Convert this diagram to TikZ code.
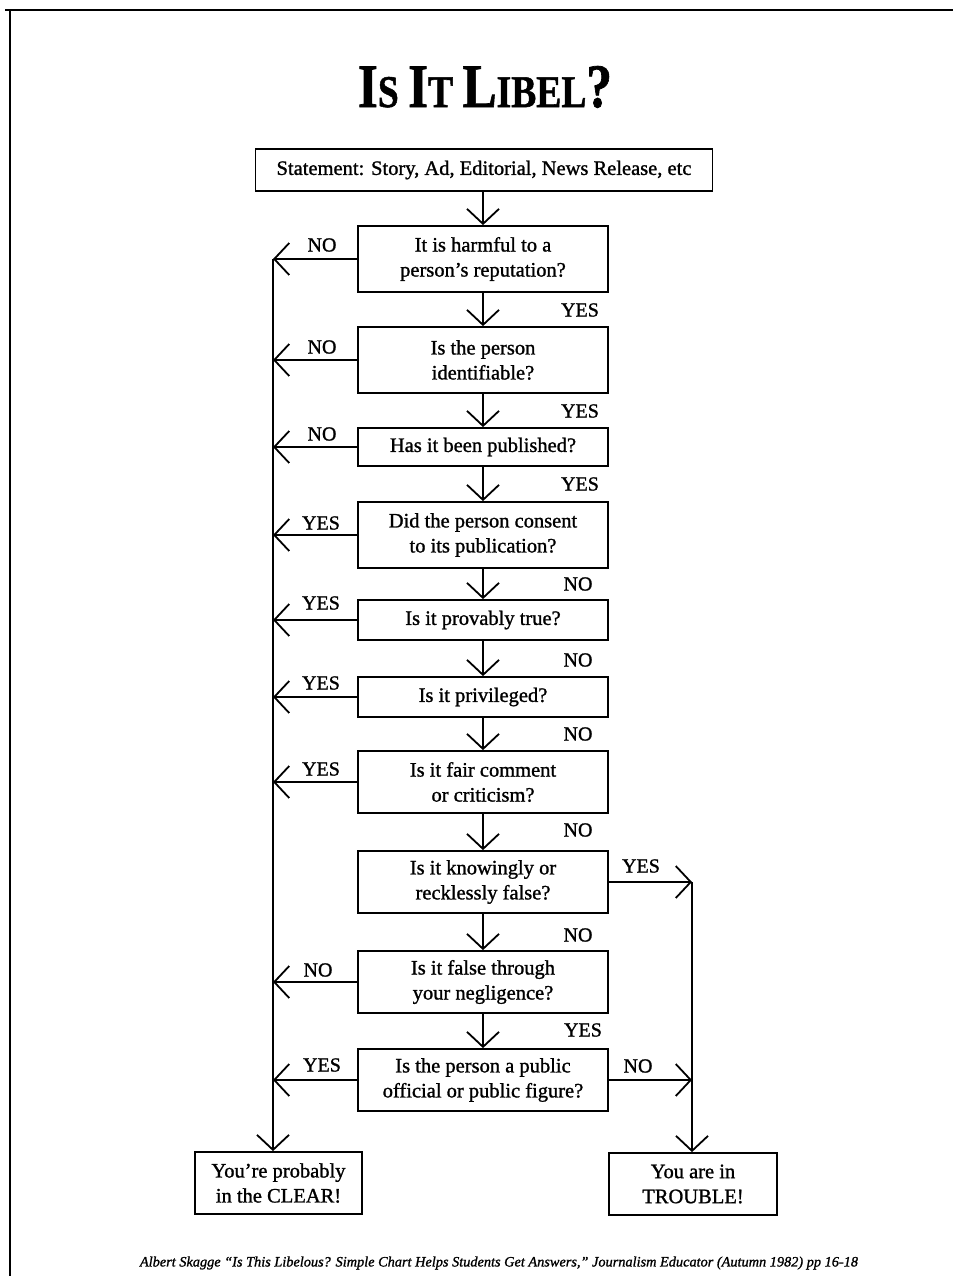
\documentclass[tikz,border=0pt]{standalone}
\usepackage{fontspec}
\setmainfont{Liberation Serif}[RawFeature={embolden=1.2}]
\usetikzlibrary{arrows.meta}
\newcommand{\ttlbig}{\fontsize{64}{64}\selectfont}
\newcommand{\ttlsmall}{\fontsize{47}{47}\selectfont}
\begin{document}
\begin{tikzpicture}[x=1pt,y=-1pt,
  box/.style={draw, line width=1.8pt, align=center, inner sep=0pt, font=\fontsize{20.5}{25}\selectfont},
  lbl/.style={inner sep=0pt, font=\fontsize{20}{22}\selectfont},
  arr/.style={line width=1.8pt, -{Straight Barb[length=15pt,width=32pt,line width=1.8pt]}},
  frame/.style={line width=2.5pt}]
\useasboundingbox (0,0) rectangle (953,1276);
\draw[frame] (5,10) -- (953,10);
\draw[frame] (10,10) -- (10,1276);

\node[inner sep=0pt] (title) at (485,87) {\resizebox{254pt}{41pt}{\bfseries\ttlbig I\ttlsmall S \ttlbig I\ttlsmall T \ttlbig L\ttlsmall IBEL\ttlbig ?}};

\node[box, minimum width=457pt, minimum height=42pt] (stmt) at (484,170) {Statement: Story, Ad, Editorial, News Release, etc};
\node[box, minimum width=250pt, minimum height=66pt] (b1) at (483,259) {It is harmful to a\\person's reputation?};
\node[box, minimum width=250pt, minimum height=66pt] (b2) at (483,360) {Is the person\\identifiable?};
\node[box, minimum width=250pt, minimum height=38pt] (b3) at (483,447) {Has it been published?};
\node[box, minimum width=250pt, minimum height=66pt] (b4) at (483,535) {Did the person consent\\to its publication?};
\node[box, minimum width=250pt, minimum height=40pt] (b5) at (483,620) {Is it provably true?};
\node[box, minimum width=250pt, minimum height=40pt] (b6) at (483,697) {Is it privileged?};
\node[box, minimum width=250pt, minimum height=62pt] (b7) at (483,782) {Is it fair comment\\or criticism?};
\node[box, minimum width=250pt, minimum height=62pt] (b8) at (483,882) {Is it knowingly or\\recklessly false?};
\node[box, minimum width=250pt, minimum height=62pt] (b9) at (483,982) {Is it false through\\your negligence?};
\node[box, minimum width=250pt, minimum height=62pt] (b10) at (483,1080) {Is the person a public\\official or public figure?};
\node[box, minimum width=167pt, minimum height=62pt] (clear) at (278.5,1183) {You're probably\\in the CLEAR!};
\node[box, minimum width=168pt, minimum height=62pt] (trouble) at (693,1184) {You are in\\TROUBLE!};

% main column
\draw[arr] (stmt.south -| b1.north) -- (b1.north);
\draw[arr] (b1) -- (b2);
\draw[arr] (b2) -- (b3);
\draw[arr] (b3) -- (b4);
\draw[arr] (b4) -- (b5);
\draw[arr] (b5) -- (b6);
\draw[arr] (b6) -- (b7);
\draw[arr] (b7) -- (b8);
\draw[arr] (b8) -- (b9);
\draw[arr] (b9) -- (b10);

% left column
\coordinate (ltop) at (273,259);
\draw[arr] (b1.west) -- (ltop);
\draw[arr] (ltop) -- (ltop |- clear.north);
\foreach \b in {b2,b3,b4,b5,b6,b7,b9,b10}
  \draw[arr] (\b.west) -- (\b.west -| ltop);

% right column
\coordinate (rtop) at (692,882);
\draw[arr] (b8.east) -- (rtop);
\draw[arr] (rtop) -- (rtop |- trouble.north);
\draw[arr] (b10.east) -- (b10.east -| rtop);

% labels left
\node[lbl] (l1) at (322,245) {NO};
\node[lbl] (l2) at (322,347) {NO};
\node[lbl] (l3) at (322,434) {NO};
\node[lbl] (l4) at (321,523) {YES};
\node[lbl] (l5) at (321,603) {YES};
\node[lbl] (l6) at (321,683) {YES};
\node[lbl] (l7) at (321,769) {YES};
\node[lbl] (l9) at (318,970) {NO};
\node[lbl] (l10) at (322,1065) {YES};
% labels between boxes
\node[lbl] (g1) at (580,310) {YES};
\node[lbl] (g2) at (580,411) {YES};
\node[lbl] (g3) at (580,484) {YES};
\node[lbl] (g4) at (578,584) {NO};
\node[lbl] (g5) at (578,660) {NO};
\node[lbl] (g6) at (578,734) {NO};
\node[lbl] (g7) at (578,830) {NO};
\node[lbl] (g8) at (578,935) {NO};
\node[lbl] (g9) at (583,1030) {YES};
% labels right
\node[lbl] (r8) at (641,866) {YES};
\node[lbl] (r10) at (638,1066) {NO};

\node[inner sep=0pt] (foot) at (499,1263) {\resizebox{718pt}{!}{\itshape\fontsize{12}{12}\selectfont Albert Skagge “Is This Libelous? Simple Chart Helps Students Get Answers,” Journalism Educator (Autumn 1982) pp 16-18}};
\end{tikzpicture}
\end{document}
